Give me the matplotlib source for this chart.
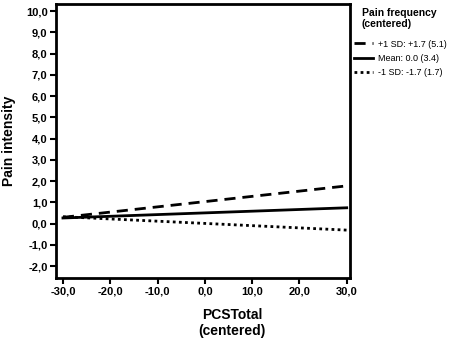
import matplotlib
matplotlib.use("Agg")
import matplotlib.pyplot as plt
import numpy as np

plt.rcParams['font.family'] = ['Liberation Sans', 'DejaVu Sans']

# simple slopes, PCS total (centered) vs pain intensity
pcs = [-30.0, 30.0]
plus_sd = [0.30, 1.78]
mean_line = [0.27, 0.75]
minus_sd = [0.33, -0.30]
labels = ["+1 SD: +1.7 (5.1)", "Mean: 0.0 (3.4)", "-1 SD: -1.7 (1.7)"]
yticks = np.arange(-2, 11, 1)
xticks = np.arange(-30, 31, 10)

fig = plt.figure(figsize=(4.54, 3.38), dpi=100)
ax = fig.add_axes([0.123, 0.177, 0.648, 0.811])

ax.plot(pcs, plus_sd, color='black', lw=2, ls=(0, (4, 2.5)), label=labels[0])
ax.plot(pcs, mean_line, color='black', lw=2, ls='-', label=labels[1])
ax.plot(pcs, minus_sd, color='black', lw=2, ls=(0, (1, 1.2)), label=labels[2])

ax.set_xlim(-31.5, 30.7)
ax.set_ylim(-2.56, 10.33)
ax.set_xticks(xticks)
ax.set_yticks(yticks)
ax.set_xticklabels([f"{v:.1f}".replace('.', ',') for v in xticks], fontweight='bold', fontsize=8)
ax.set_yticklabels([f"{v:.1f}".replace('.', ',') for v in yticks], fontweight='bold', fontsize=8)
ax.tick_params(direction='out', length=4, width=1.5, pad=2)
for s in ax.spines.values():
    s.set_linewidth(2)

ax.set_ylabel("Pain intensity", fontweight='bold', fontsize=10, labelpad=7)
ax.set_xlabel("PCSTotal\n(centered)", fontweight='bold', fontsize=10, labelpad=8, linespacing=1.15)
ax.xaxis.set_label_coords(0.6, -0.11)

# legend title as separate text, indented like the original
fig.text(362 / 454, 1 - 8 / 338, "Pain frequency\n(centered)", fontweight='bold',
         fontsize=7.5, va='top', ha='left', linespacing=1.15)
leg = fig.legend(loc='upper left', bbox_to_anchor=(350 / 454, 1 - 36 / 338), frameon=False,
                 fontsize=6.5, handlelength=2.2, handletextpad=0.5, borderaxespad=0,
                 labelspacing=0.6)

fig.savefig("out.png", dpi=100)
